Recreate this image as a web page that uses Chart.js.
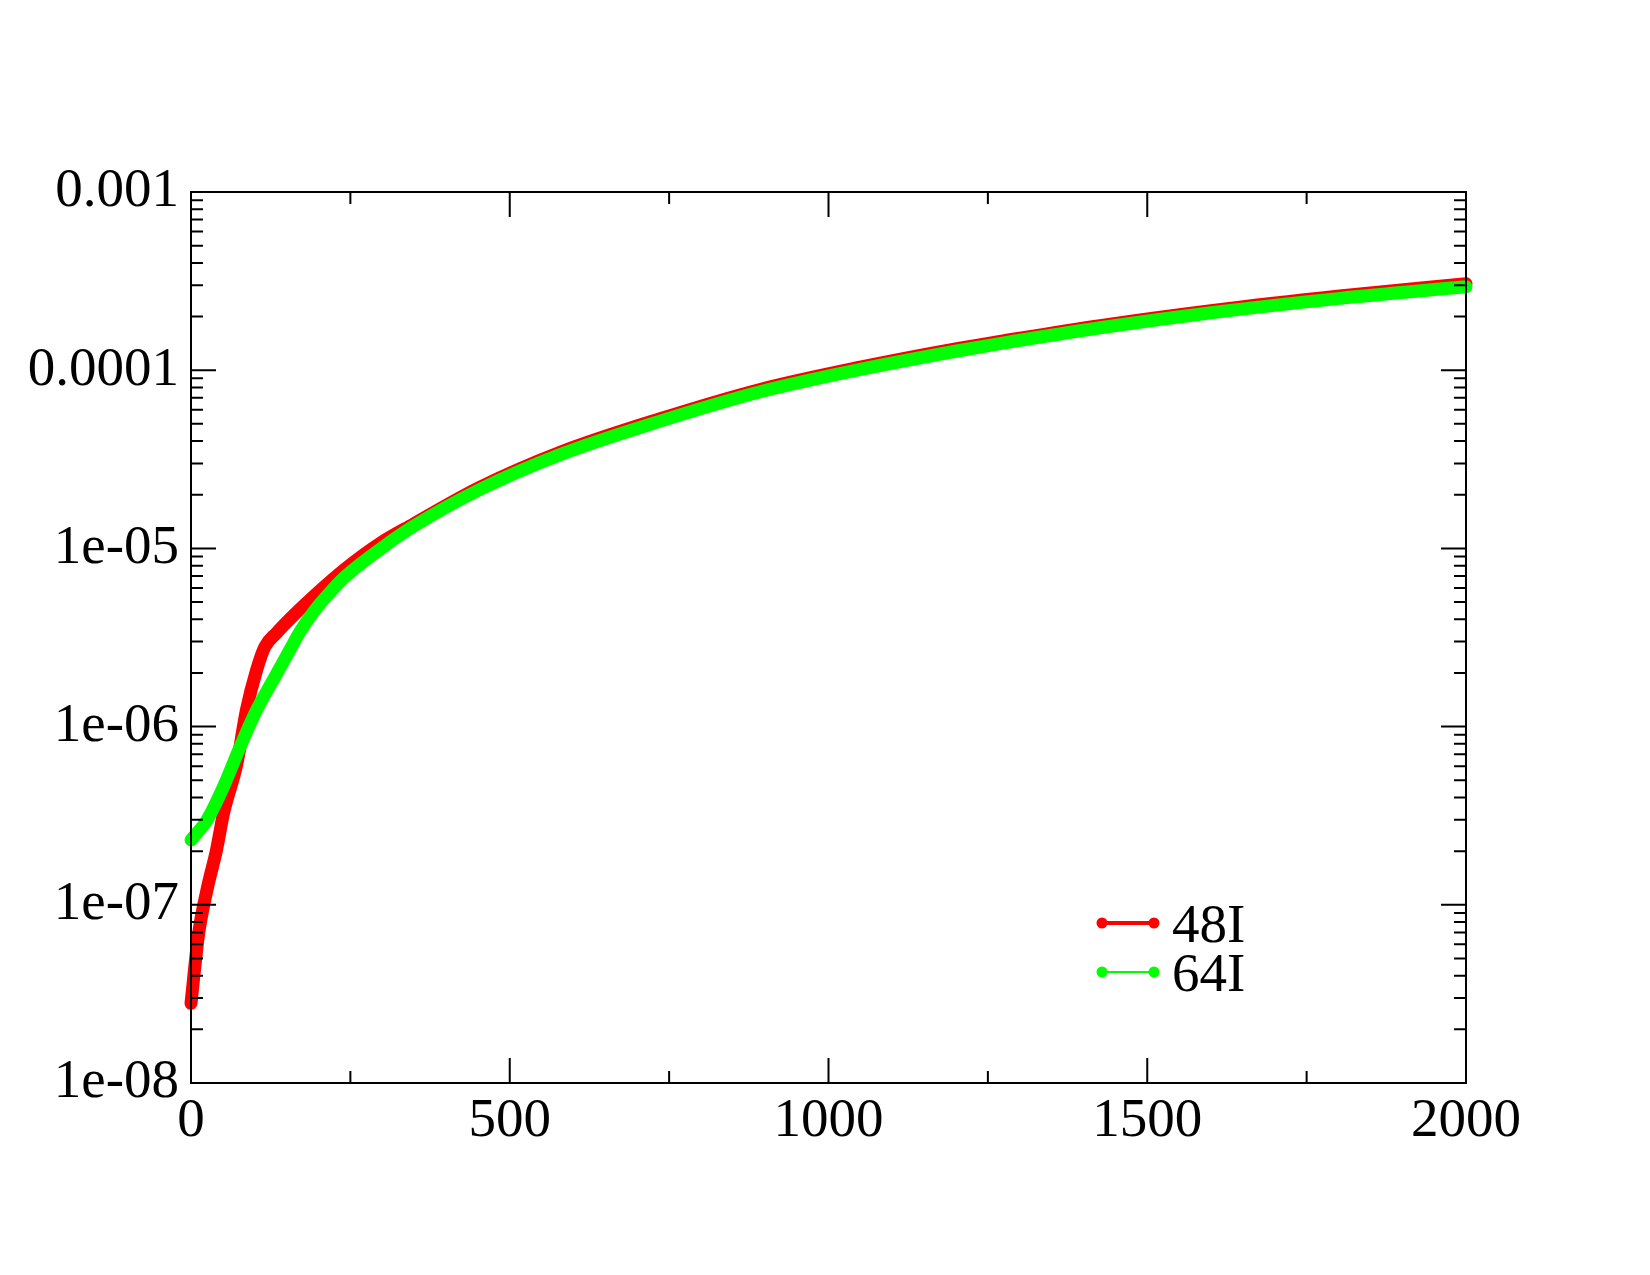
<!DOCTYPE html>
<html>
<head>
<meta charset="utf-8">
<script src="https://cdn.jsdelivr.net/npm/chart.js@4.4.0/dist/chart.umd.min.js"></script>
<style>
  html, body { margin: 0; padding: 0; background: #fff; }
  #wrap { width: 1650px; height: 1275px; }
</style>
</head>
<body>
<div id="wrap"><canvas id="myChart" width="1650" height="1275"></canvas></div>
<script>
const x_48I = [0, 12, 25, 40, 51, 72, 87, 103, 116, 134, 160, 192, 244, 297, 349, 453, 579, 736, 893, 1050, 1206, 1269, 1426, 1600, 1802, 2000]
const y_48I = [2.8e-8, 6.9e-8, 1.21e-7, 2.03e-7, 3.26e-7, 6.2e-7, 1.24e-6, 2.08e-6, 2.81e-6, 3.35e-6, 4.18e-6, 5.37e-6, 7.78e-6, 1.07e-5, 1.37e-5, 2.2e-5, 3.46e-5, 5.34e-5, 7.8e-5, 1.04e-4, 1.33e-4, 1.45e-4, 1.78e-4, 2.16e-4, 2.61e-4, 3.06e-4]

const x_64I = [0, 25, 51, 77, 103, 129, 155, 171, 192, 223, 244, 300, 349, 453, 579, 736, 893, 1050, 1206, 1269, 1426, 1600, 1802, 2000]
const y_64I = [2.31e-7, 2.99e-7, 4.6e-7, 7.7e-7, 1.24e-6, 1.83e-6, 2.69e-6, 3.41e-6, 4.39e-6, 5.92e-6, 7.05e-6, 1.01e-5, 1.33e-5, 2.14e-5, 3.36e-5, 5.18e-5, 7.57e-5, 1.01e-4, 1.29e-4, 1.41e-4, 1.73e-4, 2.1e-4, 2.53e-4, 2.94e-4]

const xTicks = [0, 500, 1000, 1500, 2000]
const xMinorTicks = [250, 750, 1250, 1750]
const yTicks = [1e-8, 1e-7, 1e-6, 1e-5, 1e-4, 1e-3]
const yTickLabels = ['1e-08', '1e-07', '1e-06', '1e-05', '0.0001', '0.001']
const seriesNames = ['48I', '64I']
const seriesColors = ['#ff0000', '#00ff00']

const FONT = '"Liberation Serif", "Times New Roman", serif'

function pts(xs, ys) {
    return xs.map((x, i) => ({x: x, y: ys[i]}))
}

// frame + inward ticks on all four sides, xmgrace style
const frameTicks = {
    id: 'frameTicks',
    afterDraw(chart) {
        const ctx = chart.ctx
        const a = chart.chartArea
        const xs = chart.scales.x
        const ys = chart.scales.y
        ctx.save()
        ctx.strokeStyle = '#000'
        ctx.lineWidth = 2
        ctx.strokeRect(a.left, a.top, a.right - a.left, a.bottom - a.top)
        ctx.beginPath()
        const tick = (len, px, vertical) => {
            if (vertical) {
                ctx.moveTo(px, a.bottom); ctx.lineTo(px, a.bottom - len)
                ctx.moveTo(px, a.top); ctx.lineTo(px, a.top + len)
            } else {
                ctx.moveTo(a.left, px); ctx.lineTo(a.left + len, px)
                ctx.moveTo(a.right, px); ctx.lineTo(a.right - len, px)
            }
        }
        xTicks.forEach(v => tick(25, xs.getPixelForValue(v), true))
        xMinorTicks.forEach(v => tick(12, xs.getPixelForValue(v), true))
        for (let e = -8; e <= -3; e++) {
            tick(25, ys.getPixelForValue(Math.pow(10, e)), false)
            if (e < -3) {
                for (let m = 2; m <= 9; m++) tick(12, ys.getPixelForValue(m * Math.pow(10, e)), false)
            }
        }
        ctx.stroke()

        // legend
        const lx0 = 1102, lx1 = 1154
        const rows = [923, 972]
        const widths = [4, 2]
        rows.forEach((y, i) => {
            ctx.strokeStyle = seriesColors[i]
            ctx.fillStyle = seriesColors[i]
            ctx.lineWidth = widths[i]
            ctx.beginPath(); ctx.moveTo(lx0, y); ctx.lineTo(lx1, y); ctx.stroke()
            ctx.beginPath(); ctx.arc(lx0, y, 5.5, 0, Math.PI * 2); ctx.fill()
            ctx.beginPath(); ctx.arc(lx1, y, 5.5, 0, Math.PI * 2); ctx.fill()
            ctx.fillStyle = '#000'
            ctx.font = '55px ' + FONT
            ctx.textBaseline = 'alphabetic'
            ctx.textAlign = 'left'
            ctx.fillText(seriesNames[i], 1172, y + 19)
        })
        ctx.restore()
    }
}

const ctx = document.getElementById('myChart').getContext('2d')

const myChart = new Chart(ctx, {
    type: 'scatter',
    data: {
        datasets: [
            {
                label: seriesNames[0],
                data: pts(x_48I, y_48I),
                showLine: true,
                borderColor: seriesColors[0],
                backgroundColor: seriesColors[0],
                borderWidth: 13,
                borderCapStyle: 'round',
                borderJoinStyle: 'round',
                cubicInterpolationMode: 'monotone',
                pointRadius: 0,
                clip: 12,
                order: 1
            },
            {
                label: seriesNames[1],
                data: pts(x_64I, y_64I),
                showLine: true,
                borderColor: seriesColors[1],
                backgroundColor: seriesColors[1],
                borderWidth: 13,
                borderCapStyle: 'round',
                borderJoinStyle: 'round',
                cubicInterpolationMode: 'monotone',
                pointRadius: 0,
                clip: 12,
                order: 0
            }
        ]
    },
    options: {
        responsive: false,
        animation: false,
        devicePixelRatio: 1,
        layout: { padding: { top: 192, right: 184, left: 0, bottom: 0 } },
        plugins: { legend: { display: false }, tooltip: { enabled: false } },
        scales: {
            x: {
                type: 'linear',
                min: 0,
                max: 2000,
                grid: { display: false, drawTicks: false },
                border: { display: false },
                afterBuildTicks: s => { s.ticks = xTicks.map(v => ({value: v})) },
                afterFit: s => { s.height = 192 },
                ticks: {
                    color: '#000',
                    padding: 6,
                    maxRotation: 0,
                    autoSkip: false,
                    font: { family: FONT, size: 55 },
                    callback: v => String(v)
                }
            },
            y: {
                type: 'logarithmic',
                min: 1e-8,
                max: 1e-3,
                grid: { display: false, drawTicks: false },
                border: { display: false },
                afterBuildTicks: s => { s.ticks = yTicks.map(v => ({value: v})) },
                afterFit: s => { s.width = 191 },
                ticks: {
                    color: '#000',
                    padding: 12,
                    autoSkip: false,
                    font: { family: FONT, size: 55 },
                    callback: v => yTickLabels[yTicks.indexOf(v)]
                }
            }
        }
    },
    plugins: [frameTicks]
})
</script>
</body>
</html>
